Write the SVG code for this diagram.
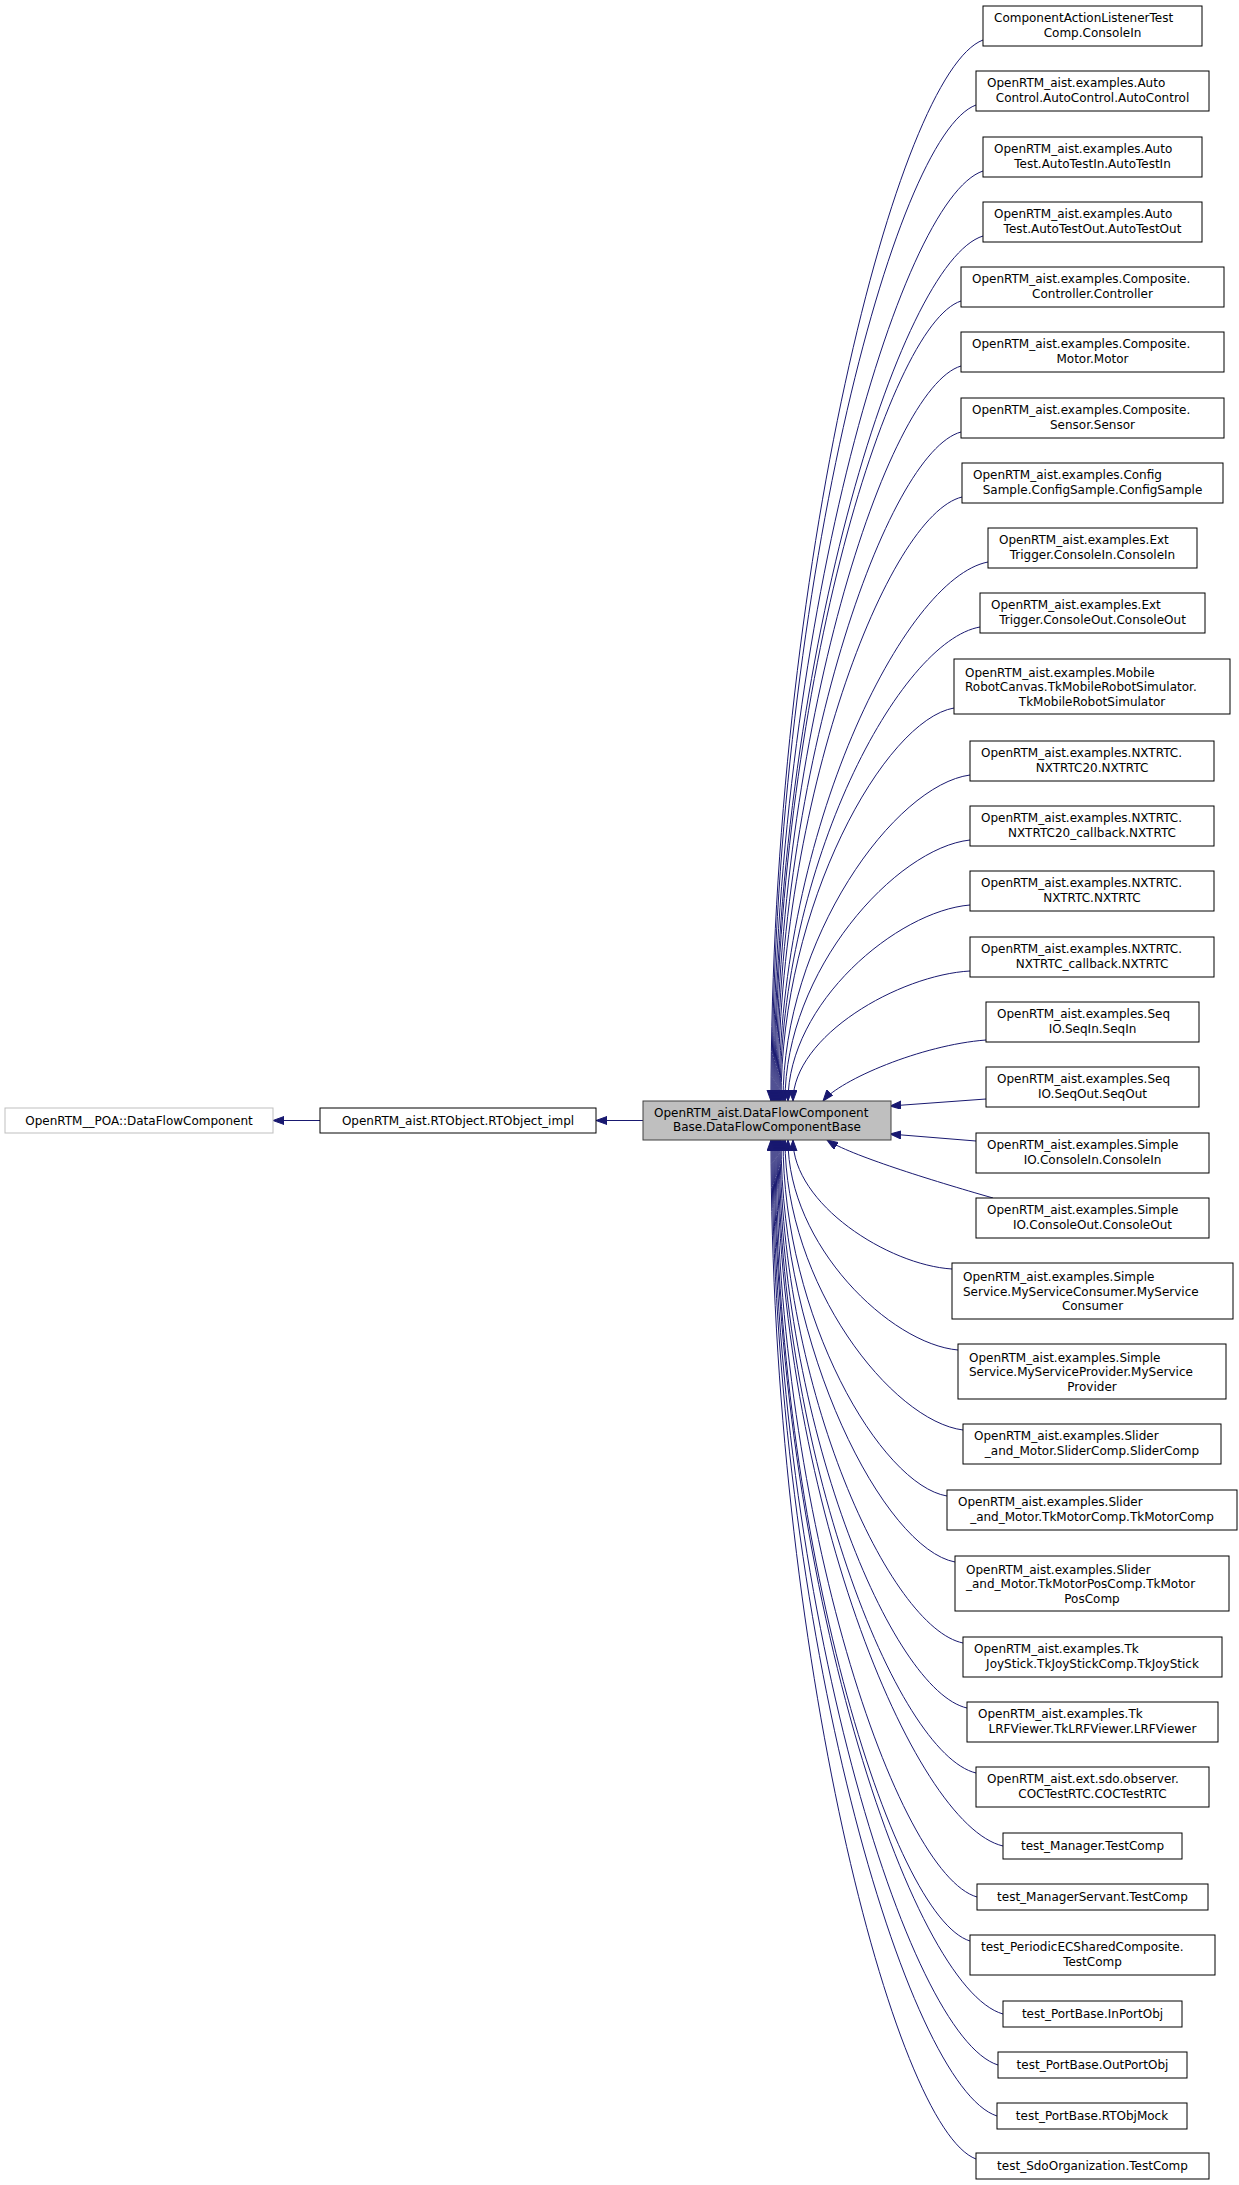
<svg xmlns="http://www.w3.org/2000/svg" width="1239" height="2185" viewBox="0 0 1239 2185">
<style>
.n rect{fill:#fff;stroke:#000;stroke-width:1}
text{font-family:"DejaVu Sans","Liberation Sans",sans-serif;font-size:12px;fill:#000}
.s{text-anchor:start}.m{text-anchor:middle}
#edges path,#edges line{fill:none;stroke:#191970;stroke-width:1;marker-end:url(#ah)}
</style>
<defs><marker id="ah" markerUnits="userSpaceOnUse" markerWidth="12" markerHeight="9" refX="11" refY="4" orient="auto"><path d="M0,0 L11,4 L0,8 z" fill="#191970" stroke="#191970"/></marker></defs>
<rect width="1239" height="2185" fill="#fff"/>
<g id="edges">
<line x1="320" y1="1120.5" x2="273" y2="1120.5"/>
<line x1="643" y1="1120.5" x2="596" y2="1120.5"/>
<path d="M983,40 C898,72 771,570 771,1101"/>
<path d="M976,105 C894,135 772,603 772,1101"/>
<path d="M983,171 C899,199 773,636 773,1101"/>
<path d="M983,236 C899,262 774,668 774,1101"/>
<path d="M961,301 C887,325 775,701 775,1101"/>
<path d="M961,366 C887,388 776,733 776,1101"/>
<path d="M961,432 C887,452 777,766 777,1101"/>
<path d="M962,497 C888,515 778,799 778,1101"/>
<path d="M988,562 C904,578 779,831 779,1101"/>
<path d="M980,627 C900,641 780,864 780,1101"/>
<path d="M954,708 C885,720 781,904 781,1101"/>
<path d="M970,775 C895,785 783,938 783,1101"/>
<path d="M970,840 C896,848 785,970 785,1101"/>
<path d="M970,905 C897,911 788,1003 788,1101"/>
<path d="M970,971 C899,975 793,1036 793,1101"/>
<path d="M986,1040 C921,1045 840,1080 823,1101"/>
<line x1="986" y1="1099" x2="890" y2="1106"/>
<line x1="976" y1="1141" x2="890" y2="1134"/>
<path d="M993,1198 C930,1180 850,1155 827,1140"/>
<path d="M952,1269 C888,1265 793,1204 793,1140"/>
<path d="M958,1350 C890,1344 788,1245 788,1140"/>
<path d="M963,1430 C892,1421 785,1285 785,1140"/>
<path d="M947,1496 C881,1485 783,1318 783,1140"/>
<path d="M955,1562 C885,1549 781,1351 781,1140"/>
<path d="M963,1643 C890,1628 780,1391 780,1140"/>
<path d="M967,1708 C892,1691 779,1424 779,1140"/>
<path d="M976,1773 C897,1754 778,1456 778,1140"/>
<path d="M1003,1846 C913,1825 777,1493 777,1140"/>
<path d="M977,1897 C897,1874 776,1518 776,1140"/>
<path d="M970,1941 C892,1917 775,1540 775,1140"/>
<path d="M1003,2014 C911,1988 774,1577 774,1140"/>
<path d="M998,2065 C908,2037 773,1602 773,1140"/>
<path d="M997,2116 C907,2087 772,1628 772,1140"/>
<path d="M976,2159 C894,2128 771,1650 771,1140"/>
</g>
<g id="poa" class="n"><rect x="5" y="1108" width="268" height="25" style="stroke:#bfbfbf"/><text class="m" x="139" y="1125">OpenRTM__POA::DataFlowComponent</text></g>
<g id="rtobject" class="n"><rect x="320" y="1108" width="276" height="25"/><text class="m" x="458" y="1125">OpenRTM_aist.RTObject.RTObject_impl</text></g>
<g id="dfcb" class="n"><rect x="643" y="1101" width="248" height="39" style="fill:#bfbfbf;stroke:#404040"/><text class="s" x="654" y="1117">OpenRTM_aist.DataFlowComponent</text><text class="m" x="767" y="1131">Base.DataFlowComponentBase</text></g>
<g id="c1" class="n"><rect x="983" y="6" width="219" height="40"/><text class="s" x="994" y="22">ComponentActionListenerTest</text><text class="m" x="1092.5" y="36.5">Comp.ConsoleIn</text></g>
<g id="c2" class="n"><rect x="976" y="71" width="233" height="40"/><text class="s" x="987" y="87">OpenRTM_aist.examples.Auto</text><text class="m" x="1092.5" y="101.5">Control.AutoControl.AutoControl</text></g>
<g id="c3" class="n"><rect x="983" y="137" width="219" height="40"/><text class="s" x="994" y="153">OpenRTM_aist.examples.Auto</text><text class="m" x="1092.5" y="167.5">Test.AutoTestIn.AutoTestIn</text></g>
<g id="c4" class="n"><rect x="983" y="202" width="219" height="40"/><text class="s" x="994" y="218">OpenRTM_aist.examples.Auto</text><text class="m" x="1092.5" y="232.5">Test.AutoTestOut.AutoTestOut</text></g>
<g id="c5" class="n"><rect x="961" y="267" width="263" height="40"/><text class="s" x="972" y="283">OpenRTM_aist.examples.Composite.</text><text class="m" x="1092.5" y="297.5">Controller.Controller</text></g>
<g id="c6" class="n"><rect x="961" y="332" width="263" height="40"/><text class="s" x="972" y="348">OpenRTM_aist.examples.Composite.</text><text class="m" x="1092.5" y="362.5">Motor.Motor</text></g>
<g id="c7" class="n"><rect x="961" y="398" width="263" height="40"/><text class="s" x="972" y="414">OpenRTM_aist.examples.Composite.</text><text class="m" x="1092.5" y="428.5">Sensor.Sensor</text></g>
<g id="c8" class="n"><rect x="962" y="463" width="261" height="40"/><text class="s" x="973" y="479">OpenRTM_aist.examples.Config</text><text class="m" x="1092.5" y="493.5">Sample.ConfigSample.ConfigSample</text></g>
<g id="c9" class="n"><rect x="988" y="528" width="209" height="40"/><text class="s" x="999" y="544">OpenRTM_aist.examples.Ext</text><text class="m" x="1092.5" y="558.5">Trigger.ConsoleIn.ConsoleIn</text></g>
<g id="c10" class="n"><rect x="980" y="593" width="225" height="40"/><text class="s" x="991" y="609">OpenRTM_aist.examples.Ext</text><text class="m" x="1092.5" y="623.5">Trigger.ConsoleOut.ConsoleOut</text></g>
<g id="c11" class="n"><rect x="954" y="659" width="276" height="55"/><text class="s" x="965" y="676.5">OpenRTM_aist.examples.Mobile</text><text class="s" x="965" y="691">RobotCanvas.TkMobileRobotSimulator.</text><text class="m" x="1092" y="705.5">TkMobileRobotSimulator</text></g>
<g id="c12" class="n"><rect x="970" y="741" width="244" height="40"/><text class="s" x="981" y="757">OpenRTM_aist.examples.NXTRTC.</text><text class="m" x="1092" y="771.5">NXTRTC20.NXTRTC</text></g>
<g id="c13" class="n"><rect x="970" y="806" width="244" height="40"/><text class="s" x="981" y="822">OpenRTM_aist.examples.NXTRTC.</text><text class="m" x="1092" y="836.5">NXTRTC20_callback.NXTRTC</text></g>
<g id="c14" class="n"><rect x="970" y="871" width="244" height="40"/><text class="s" x="981" y="887">OpenRTM_aist.examples.NXTRTC.</text><text class="m" x="1092" y="901.5">NXTRTC.NXTRTC</text></g>
<g id="c15" class="n"><rect x="970" y="937" width="244" height="40"/><text class="s" x="981" y="953">OpenRTM_aist.examples.NXTRTC.</text><text class="m" x="1092" y="967.5">NXTRTC_callback.NXTRTC</text></g>
<g id="c16" class="n"><rect x="986" y="1002" width="213" height="40"/><text class="s" x="997" y="1018">OpenRTM_aist.examples.Seq</text><text class="m" x="1092.5" y="1032.5">IO.SeqIn.SeqIn</text></g>
<g id="c17" class="n"><rect x="986" y="1067" width="213" height="40"/><text class="s" x="997" y="1083">OpenRTM_aist.examples.Seq</text><text class="m" x="1092.5" y="1097.5">IO.SeqOut.SeqOut</text></g>
<g id="c18" class="n"><rect x="976" y="1133" width="233" height="40"/><text class="s" x="987" y="1149">OpenRTM_aist.examples.Simple</text><text class="m" x="1092.5" y="1163.5">IO.ConsoleIn.ConsoleIn</text></g>
<g id="c19" class="n"><rect x="976" y="1198" width="233" height="40"/><text class="s" x="987" y="1214">OpenRTM_aist.examples.Simple</text><text class="m" x="1092.5" y="1228.5">IO.ConsoleOut.ConsoleOut</text></g>
<g id="c20" class="n"><rect x="952" y="1263" width="281" height="56"/><text class="s" x="963" y="1281">OpenRTM_aist.examples.Simple</text><text class="s" x="963" y="1295.5">Service.MyServiceConsumer.MyService</text><text class="m" x="1092.5" y="1310">Consumer</text></g>
<g id="c21" class="n"><rect x="958" y="1344" width="268" height="55"/><text class="s" x="969" y="1361.5">OpenRTM_aist.examples.Simple</text><text class="s" x="969" y="1376">Service.MyServiceProvider.MyService</text><text class="m" x="1092" y="1390.5">Provider</text></g>
<g id="c22" class="n"><rect x="963" y="1424" width="258" height="40"/><text class="s" x="974" y="1440">OpenRTM_aist.examples.Slider</text><text class="m" x="1092" y="1454.5">_and_Motor.SliderComp.SliderComp</text></g>
<g id="c23" class="n"><rect x="947" y="1490" width="290" height="40"/><text class="s" x="958" y="1506">OpenRTM_aist.examples.Slider</text><text class="m" x="1092" y="1520.5">_and_Motor.TkMotorComp.TkMotorComp</text></g>
<g id="c24" class="n"><rect x="955" y="1556" width="274" height="55"/><text class="s" x="966" y="1573.5">OpenRTM_aist.examples.Slider</text><text class="s" x="966" y="1588">_and_Motor.TkMotorPosComp.TkMotor</text><text class="m" x="1092" y="1602.5">PosComp</text></g>
<g id="c25" class="n"><rect x="963" y="1637" width="259" height="40"/><text class="s" x="974" y="1653">OpenRTM_aist.examples.Tk</text><text class="m" x="1092.5" y="1667.5">JoyStick.TkJoyStickComp.TkJoyStick</text></g>
<g id="c26" class="n"><rect x="967" y="1702" width="251" height="40"/><text class="s" x="978" y="1718">OpenRTM_aist.examples.Tk</text><text class="m" x="1092.5" y="1732.5">LRFViewer.TkLRFViewer.LRFViewer</text></g>
<g id="c27" class="n"><rect x="976" y="1767" width="233" height="40"/><text class="s" x="987" y="1783">OpenRTM_aist.ext.sdo.observer.</text><text class="m" x="1092.5" y="1797.5">COCTestRTC.COCTestRTC</text></g>
<g id="c28" class="n"><rect x="1003" y="1833" width="179" height="26"/><text class="m" x="1092.5" y="1850">test_Manager.TestComp</text></g>
<g id="c29" class="n"><rect x="977" y="1884" width="231" height="26"/><text class="m" x="1092.5" y="1901">test_ManagerServant.TestComp</text></g>
<g id="c30" class="n"><rect x="970" y="1935" width="245" height="40"/><text class="s" x="981" y="1951">test_PeriodicECSharedComposite.</text><text class="m" x="1092.5" y="1965.5">TestComp</text></g>
<g id="c31" class="n"><rect x="1003" y="2001" width="179" height="26"/><text class="m" x="1092.5" y="2018">test_PortBase.InPortObj</text></g>
<g id="c32" class="n"><rect x="998" y="2052" width="189" height="26"/><text class="m" x="1092.5" y="2069">test_PortBase.OutPortObj</text></g>
<g id="c33" class="n"><rect x="997" y="2103" width="190" height="26"/><text class="m" x="1092" y="2120">test_PortBase.RTObjMock</text></g>
<g id="c34" class="n"><rect x="976" y="2153" width="233" height="26"/><text class="m" x="1092.5" y="2170">test_SdoOrganization.TestComp</text></g>
</svg>
